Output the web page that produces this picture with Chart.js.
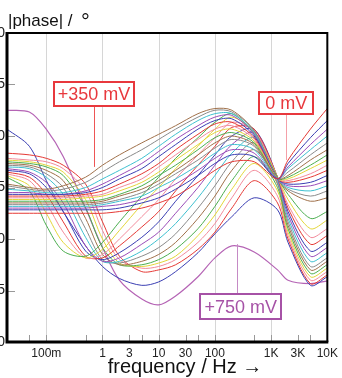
<!DOCTYPE html>
<html><head><meta charset="utf-8">
<script src="https://cdn.jsdelivr.net/npm/chart.js@4/dist/chart.umd.min.js"></script>
<style>
html,body{margin:0;padding:0;background:#fff;overflow:hidden;width:342px;height:378px;}
#wrap{position:absolute;left:-20px;top:0;width:362px;height:378px;}
</style></head><body>
<div id="wrap"><canvas id="c" width="362" height="378"></canvas></div>
<script>
// ---- data ----
const freqs = [0.02,0.05,0.1,0.2,0.5,1,2,5,10,20,50,100,200,500,1300,2000,5000,10000];
const voltages = [0,25,50,75,100,125,150,175,200,225,250,275,300,325,350,375,400,425,450,475,500,525,550,575,600,625,650,675,700,750];

const mV0   = [37.5,37.5,37.5,37.5,37.5,37.5,38,39,40.5,42.5,46.5,50,52.5,52.5,47.5,53,62,68];
const mV25  = [38.5,38.5,38.5,38.5,38.5,38.5,39,40.5,42,44.5,48.5,52,54.5,54,47.5,52,59.5,64.5];
const mV50  = [39,39,39,39,39,39.5,40,41.5,43.5,46,50,53.5,56,55,47.5,51,57.5,62];
const mV75  = [39.5,39.5,39.5,39.5,39.5,40,41,42.5,45,47.5,51.5,55,57.5,56,47.5,50.5,56,60];
const mV100 = [40,40,40,40,40,40.5,41.5,43.5,46,49,53,56.5,59,57,47.5,49.5,54.5,58];
const mV125 = [40.5,40.5,40.5,40.5,40.5,41,42.5,44.5,47,50,54.5,58,60,57.5,47.5,48.5,53,56];
const mV150 = [41,41,41,41,41,41.5,43,45.5,48.5,51.5,56,59.5,61,58,47.5,48,51.5,54.5];
const mV175 = [41.5,41.5,41.5,41.5,42,42.5,44,46.5,49.5,53,57.5,61,62,58.5,47.5,47.5,50.5,53];
const mV200 = [42,42,42,42,42.5,43,45,47.5,51,54.5,59,62,63,59,47.5,47,49,51.5];
const mV225 = [42.5,42.5,42.5,42.5,43,44,46,49,52,56,60.5,63.5,64,59.5,47.5,46.5,48,50];
const mV250 = [43,43,43,43,43.5,45,47.5,50.5,54,57.5,62,64.5,65,60,47.5,46,46.5,48.5];
const mV275 = [43.5,43.5,43,43,44,46,48.5,52,55.5,59,63,65.5,66,60.5,47.5,45.5,45.5,47];
const mV300 = [44.5,44,43.5,43.5,45,47.5,50,53.5,57,60.5,64.5,66.5,66.5,61,47.5,45,44,45.5];
const mV325 = [45.5,44.5,44,44.5,46.5,49.5,52.5,56,59,62,65.5,67.5,67,61.5,47.5,44.5,42.5,44];
const mV350 = [46,45,44.5,45.5,48,51.5,54.5,58,60.5,63,66.5,68,67.5,61.5,47.5,44,41,42];
const mV375 = [48,44,34,26.5,25,29,35,42.5,48,53.5,59.5,64,66.5,60.5,48,43,36,38];
const mV400 = [48.5,45.5,37.5,29,24.5,27,32.5,40,45,50.5,57,62,65.5,61,48,41.5,33,35.5];
const mV425 = [49,47,40.5,32,24.5,25.5,30,36.5,41.5,47.5,54.5,59.5,64,61.5,48,40,30.5,33];
const mV450 = [49.5,48,43,35,25,24.5,28,33.5,38,44,51.5,57,62.5,62,48,39,28.5,31];
const mV475 = [50,49,45,38,26.5,24,26,30.5,35,41,48.5,54.5,60,62,48,38,26.5,29];
const mV500 = [50.5,49.5,46.5,40.5,28,23.5,24.5,28.5,32,37.5,45,51.5,57.5,61,47.5,37,25,27.5];
const mV525 = [51,50.5,48,43,30.5,23.5,23.5,26.5,30,34.5,42,48.5,55,59.5,47,36,23.5,26];
const mV550 = [51.5,51,49,45,33,24,23,25,27.5,31.5,39,45.5,52.5,58,46.5,35,22,24.5];
const mV575 = [52,51.5,50,47,36,25.5,22.5,23.5,25.5,29,36,42.5,50,56,46,34,21,23.5];
const mV600 = [52.5,52,51,48.5,39,27.5,22.5,22.5,24,27,33,39.5,47,54,45,33,20,22.5];
const mV625 = [53,52.5,51.5,49.5,41.5,30,23,22,23,25,31,37,44.5,52,44,32,19,21.5];
const mV650 = [53.5,53,52.5,50.5,44,32.5,24,21.5,22,24,29,34.5,42,50,42.5,31,18,20.5];
const mV675 = [55,54.5,53.5,51.5,46,35,25,20.5,21,22.5,27,32,39,47,40.5,30,17,19.5];
const mV700 = [62,57,47,38,28,22,18.5,16.5,17.5,20.5,26,31.5,36.5,42,38.5,29,16.5,19];
const mV750 = [67.5,67,62,54,39,27.5,18,12.5,10.8,13.4,19,24.5,28,26.2,21,18,17,17.8];

const series = [mV0,mV25,mV50,mV75,mV100,mV125,mV150,mV175,mV200,mV225,mV250,mV275,mV300,mV325,mV350,
  mV375,mV400,mV425,mV450,mV475,mV500,mV525,mV550,mV575,mV600,mV625,mV650,mV675,mV700,mV750];

const xTickValues = [0.1,1,3,10,30,100,1000,3000,10000];
const xTickLabels = ['100m','1','3','10','30','100','1K','3K','10K'];
const xMinorTicks = [0.05,0.1,0.5,1,3,5,10,30,50,100,500,1000,3000,5000];
const xGridValues = [0.1,1,10,100,1000];
const yTickValues = [0,15,30,45,60,75,90];

// annotation labels: text, anchor on the curve (freq, value), box centre (freq, value)
const noteTexts   = ['+350 mV','0 mV','+750 mV'];
const noteAnchorF = [0.705, 1862, 244];
const noteAnchorV = [51, 53, 28.5];
const noteBoxF    = [0.705, 1862, 288];
const noteBoxV    = [72.2, 69.6, 10.3];

// ---- styles ----
const palette = ['#e53935','#3b3fb3','#9a4cb8','#3fc0d0','#8a8a8a','#a0714b','#4cae50','#e3d63a','#f28b9b'];
const noteColors = ['#e8383d','#e8383d','#a652a6'];
const noteLineColors = ['#ee5555','#f4a0a8','#c58ac5'];
const noteSizes = [[80,24],[54,22],[81,25]];
const FONT = '"Liberation Sans", Arial, sans-serif';

const datasets = series.map((arr, i) => ({
  label: voltages[i] + ' mV',
  data: freqs.map((f, j) => ({x: f, y: arr[j]})),
  borderColor: voltages[i] === 750 ? '#b564b5' : palette[i % palette.length],
  borderWidth: voltages[i] === 750 ? 1.2 : 1,
  pointRadius: 0,
  fill: false,
  tension: 0.3
}));

const decor = {
  id: 'decor',
  beforeDatasetsDraw(chart) {
    const {ctx, chartArea: a, scales: {x, y}} = chart;
    ctx.save();
    ctx.strokeStyle = '#d6d6d6'; ctx.lineWidth = 1;
    xGridValues.forEach(g => {
      const px = Math.round(x.getPixelForValue(g)) + 0.5;
      ctx.beginPath(); ctx.moveTo(px, a.top); ctx.lineTo(px, a.bottom); ctx.stroke();
    });
    ctx.strokeStyle = '#999';
    xMinorTicks.forEach(m => {
      const px = Math.round(x.getPixelForValue(m)) + 0.5;
      ctx.beginPath(); ctx.moveTo(px, a.bottom); ctx.lineTo(px, a.bottom - 7); ctx.stroke();
    });
    yTickValues.forEach(v => {
      if (v <= 0 || v >= 90) return;
      const py = Math.round(y.getPixelForValue(v)) + 0.5;
      ctx.beginPath(); ctx.moveTo(a.left, py); ctx.lineTo(a.left + 8, py); ctx.stroke();
    });
    ctx.restore();
  },
  afterDatasetsDraw(chart) {
    const {ctx, chartArea: a, scales: {x, y}} = chart;
    ctx.save();
    ctx.strokeStyle = '#000';
    ctx.lineWidth = 2;
    ctx.beginPath(); ctx.moveTo(a.left, a.top); ctx.lineTo(a.right, a.top); ctx.lineTo(a.right, a.bottom); ctx.stroke();
    ctx.lineWidth = 3;
    ctx.beginPath(); ctx.moveTo(a.left, a.top - 1); ctx.lineTo(a.left, a.bottom); ctx.lineTo(a.right + 1, a.bottom); ctx.stroke();
    noteTexts.forEach((t, i) => {
      const ax = x.getPixelForValue(noteAnchorF[i]), ay = y.getPixelForValue(noteAnchorV[i]);
      const bx = x.getPixelForValue(noteBoxF[i]), by = y.getPixelForValue(noteBoxV[i]);
      const [w, h] = noteSizes[i];
      const edgeY = ay > by ? by + h / 2 : by - h / 2;
      ctx.strokeStyle = noteLineColors[i]; ctx.lineWidth = 1;
      const lx = Math.round(ax) + 0.5;
      ctx.beginPath(); ctx.moveTo(lx, edgeY); ctx.lineTo(lx, ay); ctx.stroke();
      ctx.fillStyle = '#fff';
      ctx.fillRect(bx - w / 2, by - h / 2, w, h);
      ctx.strokeStyle = noteColors[i]; ctx.lineWidth = 2;
      ctx.strokeRect(Math.round(bx - w / 2), Math.round(by - h / 2), w, h);
      ctx.fillStyle = noteColors[i];
      ctx.font = '18px ' + FONT; ctx.textAlign = 'center'; ctx.textBaseline = 'middle';
      ctx.fillText(t, bx, by + 1);
    });
    ctx.restore();
  },
  afterDraw(chart) {
    const {ctx} = chart;
    ctx.save();
    ctx.fillStyle = '#111';
    ctx.textBaseline = 'alphabetic';
    ctx.textAlign = 'left';
    ctx.font = '17px ' + FONT;
    ctx.fillText('|phase| /', 28, 26);
    ctx.font = '22px ' + FONT;
    ctx.fillText('°', 101, 29);
    ctx.textAlign = 'center';
    ctx.font = '20px ' + FONT;
    ctx.fillText('frequency / Hz \u2192', 205, 373);
    ctx.restore();
  }
};

new Chart(document.getElementById('c'), {
  type: 'line',
  data: {datasets},
  plugins: [decor, {id:'bg', beforeDraw(c){const g=c.ctx; g.save(); g.fillStyle='#fff'; g.fillRect(0,0,c.width,c.height); g.restore();}}],
  options: {
    responsive: false, animation: false, devicePixelRatio: 1,
    layout: {padding: {top: 33, right: 12, left: 0, bottom: 0}},
    plugins: {legend: {display: false}, tooltip: {enabled: false}, title: {display: false}},
    scales: {
      x: {
        type: 'logarithmic', min: 0.02, max: 10000,
        afterBuildTicks: s => { s.ticks = xTickValues.map(v => ({value: v})); },
        afterFit: s => { s.height = 36; },
        ticks: {autoSkip: false, maxRotation: 0, minRotation: 0, padding: 4, color: '#222',
                font: {family: FONT, size: 12}, callback: (v, i) => xTickLabels[i]},
        grid: {display: false, drawTicks: false}, border: {display: false}
      },
      y: {
        min: 0, max: 90,
        afterBuildTicks: s => { s.ticks = yTickValues.map(v => ({value: v})); },
        afterFit: s => { s.width = 27; },
        ticks: {padding: 2, color: '#222', font: {family: FONT, size: 14}},
        grid: {display: false, drawTicks: false}, border: {display: false}
      }
    }
  }
});
</script>
</body></html>
